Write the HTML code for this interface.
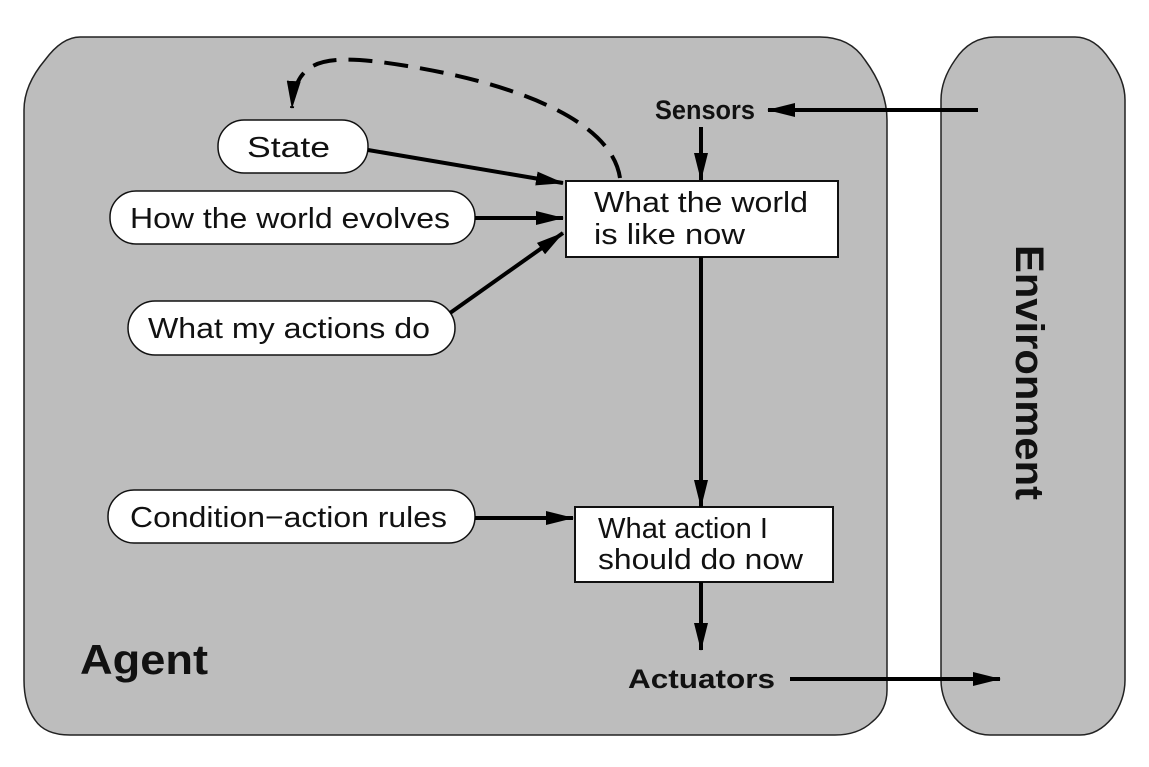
<!DOCTYPE html>
<html><head><meta charset="utf-8"><style>
html,body{margin:0;padding:0;background:#fff;width:1149px;height:767px;overflow:hidden}
text{font-family:"Liberation Sans",Arial,sans-serif;fill:#111}
</style></head><body>
<svg width="1149" height="767" viewBox="0 0 1149 767" xmlns="http://www.w3.org/2000/svg">
<defs>
<marker id="b" markerWidth="28" markerHeight="14" refX="27" refY="7" orient="auto" markerUnits="userSpaceOnUse">
<path d="M0,0 L28,7 L0,14 Z" fill="#000"/></marker>
</defs>
<path d="M80,37 L820,37 Q850,37 865,60 Q887,90 887,120 L887,690 Q887,710 872,722 Q858,735 835,735 L70,735 Q45,735 35,720 Q24,705 24,680 L24,110 Q24,85 45,60 Q62,37 80,37 Z" fill="#bdbdbd" stroke="#222" stroke-width="1.5"/>
<path d="M995,37 L1075,37 Q1095,37 1110,60 Q1125,80 1125,100 L1125,680 Q1125,700 1112,718 Q1098,735 1080,735 L990,735 Q970,735 955,718 Q941,700 941,680 L941,100 Q941,80 955,60 Q970,37 995,37 Z" fill="#bdbdbd" stroke="#222" stroke-width="1.5"/>
<path d="M620,178 C610,110 480,75 380,62 C320,55 295,62 292,108" fill="none" stroke="#000" stroke-width="4" stroke-dasharray="24,12" marker-end="url(#b)"/>
<rect x="218" y="120" width="150" height="53" rx="26" fill="#fff" stroke="#111" stroke-width="1.5"/>
<text x="247" y="157" font-size="29" textLength="83" lengthAdjust="spacingAndGlyphs">State</text>
<rect x="110" y="191" width="365" height="53" rx="26" fill="#fff" stroke="#111" stroke-width="1.5"/>
<text x="130" y="228" font-size="29" textLength="320" lengthAdjust="spacingAndGlyphs">How the world evolves</text>
<rect x="128" y="301" width="327" height="54" rx="27" fill="#fff" stroke="#111" stroke-width="1.5"/>
<text x="148" y="338" font-size="29" textLength="282" lengthAdjust="spacingAndGlyphs">What my actions do</text>
<rect x="108" y="490" width="367" height="53" rx="26" fill="#fff" stroke="#111" stroke-width="1.5"/>
<text x="130" y="527" font-size="29" textLength="317" lengthAdjust="spacingAndGlyphs">Condition−action rules</text>
<rect x="566" y="181" width="272" height="76" fill="#fff" stroke="#111" stroke-width="2"/>
<text x="594" y="212" font-size="29" textLength="214" lengthAdjust="spacingAndGlyphs">What the world</text>
<text x="594" y="244" font-size="29" textLength="151" lengthAdjust="spacingAndGlyphs">is like now</text>
<rect x="575" y="507" width="258" height="75" fill="#fff" stroke="#111" stroke-width="2"/>
<text x="598" y="538" font-size="29" textLength="170" lengthAdjust="spacingAndGlyphs">What action I</text>
<text x="598" y="569" font-size="29" textLength="205" lengthAdjust="spacingAndGlyphs">should do now</text>
<text x="655" y="119" font-size="27" font-weight="bold" textLength="100" lengthAdjust="spacingAndGlyphs">Sensors</text>
<text x="628" y="688" font-size="27" font-weight="bold" textLength="147" lengthAdjust="spacingAndGlyphs">Actuators</text>
<text x="80" y="674" font-size="42" font-weight="bold" textLength="128" lengthAdjust="spacingAndGlyphs">Agent</text>
<text transform="translate(1016,245) rotate(90)" font-size="40" font-weight="bold" textLength="255" lengthAdjust="spacingAndGlyphs">Environment</text>
<g stroke="#000" stroke-width="4" fill="none">
<line x1="978" y1="110" x2="768" y2="110" marker-end="url(#b)"/>
<line x1="701" y1="127" x2="701" y2="180" marker-end="url(#b)"/>
<line x1="368" y1="150" x2="563" y2="183" marker-end="url(#b)"/>
<line x1="475" y1="218" x2="563" y2="218" marker-end="url(#b)"/>
<line x1="450" y1="313" x2="563" y2="233" marker-end="url(#b)"/>
<line x1="701" y1="257" x2="701" y2="507" marker-end="url(#b)"/>
<line x1="475" y1="518" x2="573" y2="518" marker-end="url(#b)"/>
<line x1="701" y1="582" x2="701" y2="650" marker-end="url(#b)"/>
<line x1="790" y1="679" x2="1000" y2="679" marker-end="url(#b)"/>
</g>
</svg>
</body></html>
